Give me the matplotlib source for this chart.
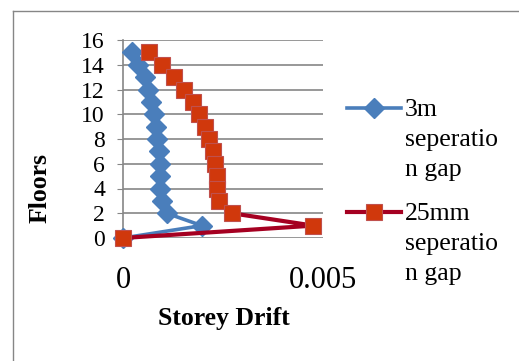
import numpy as np
import matplotlib.pyplot as plt
from matplotlib.lines import Line2D

plt.rcParams['font.family'] = ['Liberation Serif', 'DejaVu Serif']

floors = [15, 14, 13, 12, 11, 10, 9, 8, 7, 6, 5, 4, 3, 2, 1, 0]
drift_3m = [0.00022, 0.00037, 0.00055, 0.00063, 0.00069, 0.00078, 0.00082, 0.00086,
            0.00089, 0.00093, 0.00093, 0.00093, 0.00097, 0.00109, 0.00197, 0.0]
drift_25mm = [0.00066, 0.00097, 0.00128, 0.00153, 0.00174, 0.00191, 0.00205, 0.00214,
              0.00224, 0.00231, 0.00234, 0.00236, 0.00241, 0.00272, 0.00476, 0.0]
labels = ['3m\nseperatio\nn gap', '25mm\nseperatio\nn gap']

blue = '#4A7EBB'
red_line = '#A50021'
red_fill = '#D0380C'
grid_c = '#868686'

fig = plt.figure(figsize=(5.19, 3.61), dpi=100)
ax = fig.add_axes([123 / 519, 1 - 238 / 361, 200 / 519, 198 / 361])

blue_st = dict(color=blue, lw=2.6, marker='D', ms=10.5, mfc=blue, mec=blue)
red_st = dict(color=red_line, lw=3, marker='s', ms=12, mfc=red_fill, mec='#C0504D', mew=0.8)

ax.plot(drift_3m, floors, zorder=3, clip_on=False, **blue_st)
ax.plot(drift_25mm, floors, zorder=4, clip_on=False, **red_st)

ax.set_xlim(0, 0.005)
ax.set_ylim(0, 16)
ax.set_xticks([0, 0.005])
ax.set_xticklabels(['0', '0.005'], fontsize=22)
ax.set_yticks(np.arange(0, 17, 2))
ax.tick_params(axis='y', labelsize=17, length=4, color=grid_c, pad=9)
ax.tick_params(axis='x', length=0, pad=20)
ax.yaxis.grid(True, color=grid_c, lw=1.2)
ax.set_axisbelow(True)
for s in ['top', 'right', 'bottom']:
    ax.spines[s].set_visible(False)
ax.spines['left'].set_color(grid_c)
ax.spines['left'].set_linewidth(1.2)

fig.text(40 / 519, 1 - 188 / 361, 'Floors', rotation=90, fontsize=18.5,
         fontweight='bold', ha='center', va='center')
fig.text(224 / 519, 1 - 318 / 361, 'Storey Drift', fontsize=18.5,
         fontweight='bold', ha='center', va='center')

# legend drawn by hand
leg_y = [108, 212]
for y, lab, st in zip(leg_y, labels, [blue_st, red_st]):
    yy = 1 - y / 361
    fig.add_artist(Line2D([347 / 519, 401 / 519], [yy, yy], transform=fig.transFigure,
                          markevery=[], **st))
    fig.add_artist(Line2D([374 / 519], [yy], transform=fig.transFigure, **st))
    fig.text(405 / 519, yy + 9 / 361, lab, fontsize=18.5, ha='left', va='top',
             linespacing=1.47)

# outer frame
fig.add_artist(Line2D([13 / 519, 13 / 519], [0, 1 - 11 / 361], transform=fig.transFigure,
                      color=grid_c, lw=1))
fig.add_artist(Line2D([13 / 519, 1], [1 - 11 / 361, 1 - 11 / 361], transform=fig.transFigure,
                      color=grid_c, lw=1))

fig.savefig('out.png', dpi=100)
